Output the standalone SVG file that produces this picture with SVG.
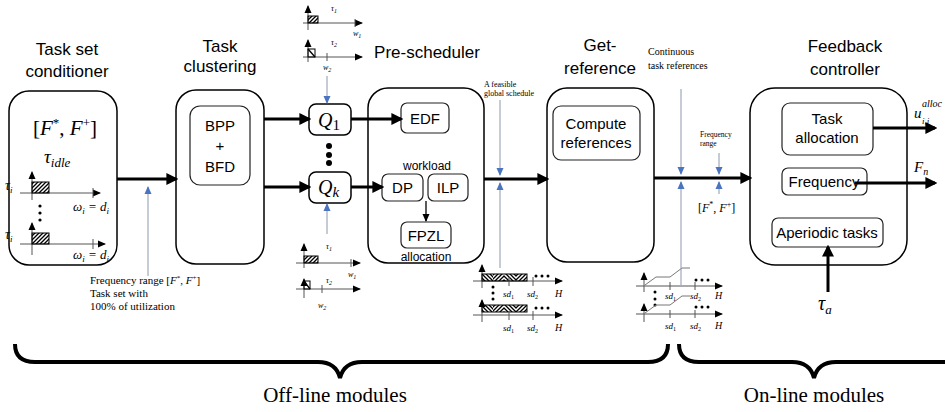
<svg xmlns="http://www.w3.org/2000/svg" width="945" height="412" viewBox="0 0 945 412">
  <defs>
    <style>
      .box { fill: #fff; stroke: #000; stroke-width: 1.5; }
      .ibox { fill: #fff; stroke: #222; stroke-width: 1.2; }
      .title { font-family: "Liberation Sans", Arial, sans-serif; font-size: 17px; fill: #000; text-anchor: middle; }
      .lbl { font-family: "Liberation Sans", Arial, sans-serif; font-size: 15px; fill: #000; text-anchor: middle; }
      .small { font-family: "Liberation Sans", Arial, sans-serif; font-size: 12px; fill: #000; text-anchor: middle; }
      .serif { font-family: "Liberation Serif", "Times New Roman", serif; fill: #000; }
      .math { font-family: "Liberation Serif", "Times New Roman", serif; font-style: italic; fill: #000; }
      .main { stroke: #000; stroke-width: 3; fill: none; }
      .blue { stroke: #8c98ab; stroke-width: 1; fill: none; }
      .axis { stroke: #555; stroke-width: 1; fill: none; }
      .brace { stroke: #000; stroke-width: 4; fill: none; }
    </style>
    <marker id="ah" markerWidth="4" markerHeight="4" refX="3.2" refY="2" orient="auto" markerUnits="strokeWidth">
      <path d="M0,0 L4,2 L0,4 Z" fill="#000"/>
    </marker>
    <marker id="ahb" markerWidth="8" markerHeight="8" refX="7" refY="4" orient="auto" markerUnits="userSpaceOnUse">
      <path d="M0,0.5 L8,4 L0,7.5 Z" fill="#4a74c0"/>
    </marker>
    <marker id="aha" markerWidth="8" markerHeight="8" refX="7" refY="4" orient="auto" markerUnits="userSpaceOnUse">
      <path d="M0,0.5 L8,4 L0,7.5 Z" fill="#000"/>
    </marker>
    <pattern id="hatch" patternUnits="userSpaceOnUse" width="4" height="4">
      <path d="M-1,1 L1,-1 M0,4 L4,0 M3,5 L5,3" stroke="#000" stroke-width="1.3"/>
    </pattern>
    <pattern id="hatchb" patternUnits="userSpaceOnUse" width="4" height="4">
      <path d="M-1,3 L1,5 M0,0 L4,4 M3,-1 L5,1" stroke="#000" stroke-width="1.3"/>
    </pattern>
  </defs>

  <!-- column titles -->
  <g id="titles">
    <text class="title" x="67" y="55">Task set</text>
    <text class="title" x="67" y="77">conditioner</text>
    <text class="title" x="220" y="52">Task</text>
    <text class="title" x="220" y="72">clustering</text>
    <text class="title" x="427" y="58">Pre-scheduler</text>
    <text class="title" x="600" y="51">Get-</text>
    <text class="title" x="600" y="74">reference</text>
    <text class="title" x="845" y="52">Feedback</text>
    <text class="title" x="845" y="75">controller</text>
  </g>

  <!-- task set conditioner -->
  <g id="conditioner">
    <rect class="box" x="9" y="91" width="108" height="174" rx="20"/>
    <text class="serif" x="33" y="135" font-size="21">[<tspan font-style="italic">F</tspan><tspan font-size="13" dy="-8">*</tspan><tspan dy="8">, </tspan><tspan font-style="italic">F</tspan><tspan font-size="13" dy="-8">+</tspan><tspan dy="8">]</tspan></text>
    <text class="math" x="44" y="163" font-size="19">τ<tspan font-size="13" dy="4">idle</tspan></text>
    <!-- first task profile -->
    <line class="axis" x1="32" y1="200" x2="32" y2="172" marker-end="url(#aha)"/>
    <line class="axis" x1="20" y1="193" x2="100" y2="193" marker-end="url(#aha)"/>
    <rect x="32" y="182" width="17" height="11" fill="url(#hatch)" stroke="#000" stroke-width="1"/>
    <line class="axis" x1="93" y1="188" x2="93" y2="198"/>
    <text class="math" x="5" y="190" font-size="14">τ<tspan font-size="9" dy="3">i</tspan></text>
    <text class="math" x="73" y="211" font-size="13">ω<tspan font-size="9" dy="3">i</tspan><tspan dy="-3"> = </tspan>d<tspan font-size="9" dy="3">i</tspan></text>
    <circle cx="40" cy="206" r="1.6"/><circle cx="40" cy="213" r="1.6"/><circle cx="40" cy="220" r="1.6"/>
    <!-- last task profile -->
    <line class="axis" x1="32" y1="255" x2="32" y2="223" marker-end="url(#aha)"/>
    <line class="axis" x1="20" y1="244" x2="105" y2="244" marker-end="url(#aha)"/>
    <rect x="32" y="233" width="17" height="11" fill="url(#hatch)" stroke="#000" stroke-width="1"/>
    <line class="axis" x1="93" y1="239" x2="93" y2="249"/>
    <text class="math" x="5" y="239" font-size="14">τ<tspan font-size="9" dy="3">i</tspan></text>
    <text class="math" x="73" y="259" font-size="13">ω<tspan font-size="9" dy="3">i</tspan><tspan dy="-3"> = </tspan>d<tspan font-size="9" dy="3">i</tspan></text>
  </g>

  <!-- task clustering -->
  <g id="clustering">
    <rect class="box" x="176" y="90" width="88" height="174" rx="20"/>
    <rect class="ibox" x="190" y="106" width="60" height="79" rx="10"/>
    <text class="lbl" x="220" y="131" font-size="16">BPP</text>
    <text class="lbl" x="220" y="151" font-size="16">+</text>
    <text class="lbl" x="220" y="172" font-size="16">BFD</text>
  </g>

  <!-- queues -->
  <g id="q1">
    <rect class="box" x="309" y="104" width="42" height="31" rx="7"/>
    <text class="math" x="318" y="127" font-size="20">Q<tspan font-style="normal" font-size="15" dy="3">1</tspan></text>
  </g>
  <g id="queue-dots">
    <circle cx="329" cy="146" r="3"/><circle cx="329" cy="155" r="3"/><circle cx="329" cy="163" r="3"/>
  </g>
  <g id="qk">
    <rect class="box" x="309" y="172" width="42" height="31" rx="7"/>
    <text class="math" x="318" y="194" font-size="20">Q<tspan font-size="15" dy="3">k</tspan></text>
  </g>

  <!-- per-task timelines above Q1 -->
  <g id="tasks-top">
    <line class="axis" x1="308" y1="30" x2="308" y2="6" marker-end="url(#aha)"/>
    <line class="axis" x1="303" y1="23" x2="362" y2="23" marker-end="url(#aha)"/>
    <rect x="308" y="16" width="10" height="7" fill="url(#hatch)" stroke="#000" stroke-width="1"/>
    <line class="axis" x1="355" y1="19" x2="355" y2="27"/>
    <text class="math" x="331" y="11" font-size="8">τ<tspan font-size="6" dy="2">1</tspan></text>
    <text class="math" x="353" y="36" font-size="8">w<tspan font-size="6" dy="2">1</tspan></text>
    <line class="axis" x1="308" y1="62" x2="308" y2="40" marker-end="url(#aha)"/>
    <line class="axis" x1="303" y1="57" x2="362" y2="57" marker-end="url(#aha)"/>
    <rect x="308" y="49" width="7" height="8" fill="none" stroke="#000" stroke-width="1"/>
    <line x1="308" y1="49" x2="315" y2="57" stroke="#000" stroke-width="1.3"/>
    <line class="axis" x1="327" y1="53" x2="327" y2="61"/>
    <text class="math" x="331" y="45" font-size="8">τ<tspan font-size="6" dy="2">2</tspan></text>
    <text class="math" x="323" y="70" font-size="8">w<tspan font-size="6" dy="2">2</tspan></text>
  </g>

  <!-- per-task timelines below Qk -->
  <g id="tasks-bottom">
    <line class="axis" x1="304" y1="268" x2="304" y2="244" marker-end="url(#aha)"/>
    <line class="axis" x1="296" y1="263" x2="360" y2="263" marker-end="url(#aha)"/>
    <rect x="304" y="256" width="14" height="7" fill="url(#hatch)" stroke="#000" stroke-width="1"/>
    <line class="axis" x1="351" y1="259" x2="351" y2="267"/>
    <text class="math" x="326" y="249" font-size="8">τ<tspan font-size="6" dy="2">1</tspan></text>
    <text class="math" x="348" y="277" font-size="8">w<tspan font-size="6" dy="2">1</tspan></text>
    <line class="axis" x1="304" y1="298" x2="304" y2="279" marker-end="url(#aha)"/>
    <line class="axis" x1="296" y1="289" x2="360" y2="289" marker-end="url(#aha)"/>
    <rect x="304" y="281" width="6" height="8" fill="none" stroke="#000" stroke-width="1"/>
    <line x1="304" y1="281" x2="310" y2="289" stroke="#000" stroke-width="1.3"/>
    <line class="axis" x1="322" y1="285" x2="322" y2="293"/>
    <text class="math" x="326" y="283" font-size="8">τ<tspan font-size="6" dy="2">2</tspan></text>
    <text class="math" x="318" y="308" font-size="8">w<tspan font-size="6" dy="2">2</tspan></text>
  </g>

  <!-- pre-scheduler -->
  <g id="pre-scheduler">
    <rect class="box" x="368" y="88" width="116" height="175" rx="20"/>
    <rect class="ibox" x="401" y="103" width="48" height="30" rx="6"/>
    <text class="lbl" x="425" y="124">EDF</text>
    <text class="small" x="427" y="170">workload</text>
    <rect class="ibox" x="382" y="174" width="41" height="27" rx="6"/>
    <text class="lbl" x="402.5" y="193">DP</text>
    <rect class="ibox" x="428" y="174" width="40" height="27" rx="6"/>
    <text class="lbl" x="448" y="193">ILP</text>
    <rect class="ibox" x="401" y="222" width="50" height="26" rx="6"/>
    <text class="lbl" x="426" y="241">FPZL</text>
    <text class="small" x="426" y="261">allocation</text>
  </g>

  <!-- global schedule timelines -->
  <g id="schedule">
    <line class="axis" x1="482" y1="288" x2="482" y2="265" marker-end="url(#aha)"/>
    <line class="axis" x1="473" y1="281" x2="562" y2="281" marker-end="url(#aha)"/>
    <rect x="482" y="274" width="11" height="7" fill="url(#hatchb)"/>
    <rect x="493" y="274" width="11" height="7" fill="url(#hatch)"/>
    <rect x="504" y="274" width="12" height="7" fill="url(#hatchb)"/>
    <rect x="516" y="274" width="11" height="7" fill="url(#hatch)"/>
    <rect x="482" y="274" width="45" height="7" fill="none" stroke="#000" stroke-width="1"/>
    <line class="axis" x1="509" y1="277" x2="509" y2="286"/>
    <line class="axis" x1="533" y1="277" x2="533" y2="286"/>
    <circle cx="536" cy="276" r="1.5"/><circle cx="542" cy="276" r="1.5"/><circle cx="548" cy="276" r="1.5"/>
    <circle cx="493" cy="287" r="1.5"/><circle cx="493" cy="293" r="1.5"/><circle cx="493" cy="299" r="1.5"/>
    <text class="math" x="503" y="297" font-size="9">sd<tspan font-style="normal" font-size="6" dy="2">1</tspan></text>
    <text class="math" x="527" y="297" font-size="9">sd<tspan font-style="normal" font-size="6" dy="2">2</tspan></text>
    <text class="math" x="555" y="297" font-size="10">H</text>
    <line class="axis" x1="482" y1="322" x2="482" y2="300" marker-end="url(#aha)"/>
    <line class="axis" x1="473" y1="315" x2="562" y2="315" marker-end="url(#aha)"/>
    <rect x="482" y="305" width="11" height="7" fill="url(#hatchb)"/>
    <rect x="493" y="305" width="11" height="7" fill="url(#hatch)"/>
    <rect x="504" y="305" width="12" height="7" fill="url(#hatchb)"/>
    <rect x="516" y="305" width="11" height="7" fill="url(#hatch)"/>
    <rect x="482" y="305" width="45" height="7" fill="none" stroke="#000" stroke-width="1"/>
    <line class="axis" x1="509" y1="311" x2="509" y2="320"/>
    <line class="axis" x1="533" y1="311" x2="533" y2="320"/>
    <circle cx="536" cy="308" r="1.5"/><circle cx="542" cy="308" r="1.5"/><circle cx="548" cy="308" r="1.5"/>
    <text class="math" x="503" y="331" font-size="9">sd<tspan font-style="normal" font-size="6" dy="2">1</tspan></text>
    <text class="math" x="527" y="331" font-size="9">sd<tspan font-style="normal" font-size="6" dy="2">2</tspan></text>
    <text class="math" x="555" y="331" font-size="10">H</text>
  </g>

  <!-- get-reference -->
  <g id="get-reference">
    <rect class="box" x="547" y="88" width="107" height="174" rx="20"/>
    <rect class="ibox" x="553" y="106" width="87" height="54" rx="8"/>
    <text class="lbl" x="596" y="129">Compute</text>
    <text class="lbl" x="596" y="148">references</text>
  </g>

  <!-- continuous reference timelines -->
  <g id="references">
    <line class="axis" x1="644" y1="292" x2="644" y2="273" marker-end="url(#aha)"/>
    <line class="axis" x1="636" y1="286" x2="722" y2="286" marker-end="url(#aha)"/>
    <polyline points="645,285 656,277 670,277 682,268 690,268" fill="none" stroke="#777" stroke-width="1"/>
    <line class="axis" x1="670" y1="282" x2="670" y2="290"/>
    <line class="axis" x1="695" y1="282" x2="695" y2="290"/>
    <circle cx="696" cy="280" r="1.5"/><circle cx="702" cy="280" r="1.5"/><circle cx="708" cy="280" r="1.5"/>
    <circle cx="655" cy="292" r="1.5"/><circle cx="655" cy="299" r="1.5"/><circle cx="655" cy="305" r="1.5"/>
    <text class="math" x="665" y="299" font-size="9">sd<tspan font-style="normal" font-size="6" dy="2">1</tspan></text>
    <text class="math" x="690" y="299" font-size="9">sd<tspan font-style="normal" font-size="6" dy="2">2</tspan></text>
    <text class="math" x="715" y="299" font-size="10">H</text>
    <line class="axis" x1="644" y1="322" x2="644" y2="304" marker-end="url(#aha)"/>
    <line class="axis" x1="636" y1="314" x2="722" y2="314" marker-end="url(#aha)"/>
    <polyline points="645,313 656,305 670,305 682,296 690,296" fill="none" stroke="#777" stroke-width="1"/>
    <line class="axis" x1="670" y1="310" x2="670" y2="318"/>
    <line class="axis" x1="695" y1="310" x2="695" y2="318"/>
    <circle cx="696" cy="307" r="1.5"/><circle cx="702" cy="307" r="1.5"/><circle cx="708" cy="307" r="1.5"/>
    <text class="math" x="665" y="329" font-size="9">sd<tspan font-style="normal" font-size="6" dy="2">1</tspan></text>
    <text class="math" x="690" y="329" font-size="9">sd<tspan font-style="normal" font-size="6" dy="2">2</tspan></text>
    <text class="math" x="715" y="329" font-size="10">H</text>
  </g>

  <!-- feedback controller -->
  <g id="feedback-controller">
    <rect class="box" x="750" y="88" width="157" height="177" rx="25"/>
    <rect class="ibox" x="782" y="103" width="91" height="52" rx="8"/>
    <text class="lbl" x="827" y="124">Task</text>
    <text class="lbl" x="827" y="143">allocation</text>
    <rect class="ibox" x="782" y="168" width="85" height="27" rx="6"/>
    <text class="lbl" x="824" y="187">Frequency</text>
    <rect class="ibox" x="772" y="218" width="111" height="29" rx="6"/>
    <text class="lbl" x="827" y="238">Aperiodic tasks</text>
  </g>

  <!-- connectors -->
  <g id="connectors">
    <line class="main" x1="117" y1="179" x2="176" y2="179" marker-end="url(#ah)"/>
    <line class="main" x1="264" y1="119" x2="309" y2="119" marker-end="url(#ah)"/>
    <line class="main" x1="264" y1="187" x2="309" y2="187" marker-end="url(#ah)"/>
    <line class="main" x1="351" y1="119" x2="401" y2="119" marker-end="url(#ah)"/>
    <line class="main" x1="351" y1="187" x2="382" y2="187" marker-end="url(#ah)"/>
    <line x1="426" y1="201" x2="426" y2="221" stroke="#000" stroke-width="1.3" marker-end="url(#aha)"/>
    <line class="main" x1="484" y1="179" x2="547" y2="179" marker-end="url(#ah)"/>
    <line class="main" x1="654" y1="178" x2="750" y2="178" marker-end="url(#ah)"/>
    <line class="main" x1="873" y1="128" x2="935" y2="128" marker-end="url(#ah)"/>
    <line class="main" x1="855" y1="183" x2="935" y2="183" marker-end="url(#ah)"/>
    <line class="main" x1="828" y1="292" x2="828" y2="247" marker-end="url(#ah)"/>
    <!-- thin input arrows -->
    <line class="blue" x1="148" y1="276" x2="148" y2="187" marker-end="url(#ahb)"/>
    <line class="blue" x1="327" y1="76" x2="327" y2="103" marker-end="url(#ahb)"/>
    <line class="blue" x1="327" y1="234" x2="327" y2="204" marker-end="url(#ahb)"/>
    <line class="blue" x1="500" y1="100" x2="500" y2="175" marker-end="url(#ahb)"/>
    <line class="blue" x1="500" y1="268" x2="500" y2="183" marker-end="url(#ahb)"/>
    <line class="blue" x1="681" y1="89" x2="681" y2="174" marker-end="url(#ahb)"/>
    <line class="blue" x1="681" y1="285" x2="681" y2="182" marker-end="url(#ahb)"/>
    <line class="blue" x1="719" y1="153" x2="719" y2="174" marker-end="url(#ahb)"/>
    <line class="blue" x1="719" y1="194" x2="719" y2="182" marker-end="url(#ahb)"/>
  </g>

  <!-- annotations -->
  <g id="annotations">
    <text class="serif" x="90" y="284" font-size="11">Frequency range [<tspan font-style="italic">F</tspan><tspan font-size="7" dy="-4">*</tspan><tspan dy="4">, </tspan><tspan font-style="italic">F</tspan><tspan font-size="7" dy="-4">+</tspan><tspan dy="4">]</tspan></text>
    <text class="serif" x="90" y="297" font-size="11">Task set with</text>
    <text class="serif" x="90" y="310" font-size="11">100% of utilization</text>
    <text class="serif" x="484" y="87" font-size="8">A feasible</text>
    <text class="serif" x="484" y="96" font-size="8">global schedule</text>
    <text class="serif" x="648" y="55" font-size="10">Continuous</text>
    <text class="serif" x="648" y="69" font-size="10">task references</text>
    <text class="serif" x="700" y="137" font-size="7.5">Frequency</text>
    <text class="serif" x="700" y="146" font-size="7.5">range</text>
    <text class="serif" x="698" y="212" font-size="12">[<tspan font-style="italic">F</tspan><tspan font-size="8" dy="-5">*</tspan><tspan dy="5">, </tspan><tspan font-style="italic">F</tspan><tspan font-size="8" dy="-5">+</tspan><tspan dy="5">]</tspan></text>
    <!-- allocation output symbol: base, superscript, subscript -->
    <text class="math" x="914" y="118" font-size="15">u</text>
    <text class="math" x="922" y="107" font-size="10">alloc</text>
    <text class="math" x="922" y="124" font-size="9">i,j</text>
    <text class="math" x="914" y="172" font-size="15">F<tspan font-size="10" dy="3">n</tspan></text>
    <text class="math" x="818" y="310" font-size="20">τ<tspan font-size="13" dy="4">a</tspan></text>
  </g>

  <!-- grouping braces -->
  <g id="braces">
    <path class="brace" d="M15,344 Q15,362 35,362 L318,362 Q336,362 340,378 Q344,362 362,362 L648,362 Q668,362 668,344"/>
    <path class="brace" d="M679,344 Q679,362 699,362 L792,362 Q810,362 814,378 Q818,362 836,362 L960,362"/>
    <text class="serif" x="335" y="402" font-size="21" text-anchor="middle">Off-line modules</text>
    <text class="serif" x="814" y="402" font-size="21" text-anchor="middle">On-line modules</text>
  </g>
</svg>
